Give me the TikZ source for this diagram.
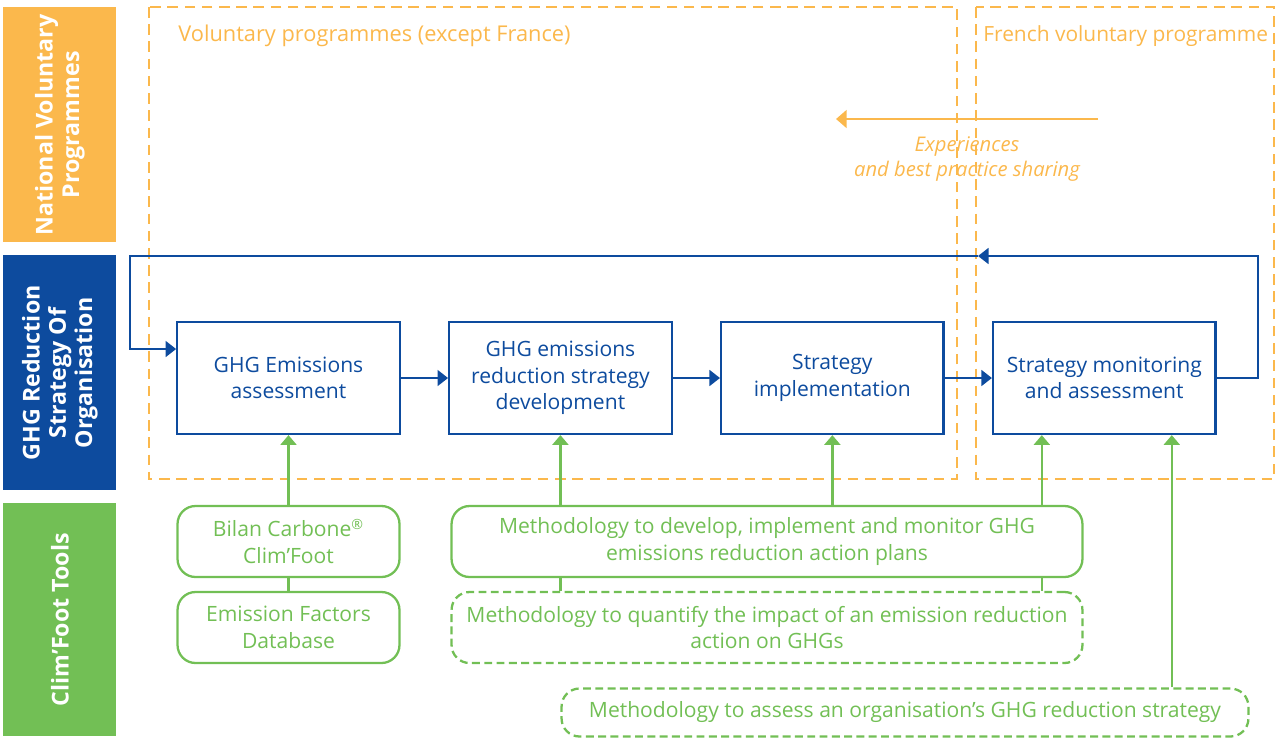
\documentclass[tikz,border=0pt]{standalone}
\usepackage{fontspec}
\setmainfont{Open Sans}
\usetikzlibrary{arrows.meta,positioning}
\definecolor{progorange}{RGB}{251,184,76}
\definecolor{orgblue}{RGB}{13,75,158}
\definecolor{toolgreen}{RGB}{114,191,85}
\tikzset{
  bar/.style = {inner sep=0pt, text=white, align=center, minimum width=2.26cm,
    font=\fontsize{13.2}{15}\selectfont\bfseries},% coloured side band
  stage/.style = {draw=orgblue, line width=1.3pt, text=orgblue, align=center,
    minimum width=4.45cm, minimum height=2.24cm, inner sep=0pt,
    font=\fontsize{12}{15.2}\selectfont},% strategy step (box)
  tool/.style = {draw=toolgreen, line width=1.3pt, rounded corners=0.36cm,
    text=toolgreen, align=center, minimum height=1.42cm, inner sep=0pt,
    font=\fontsize{12}{15.2}\selectfont},% Clim'Foot tool
  plannedtool/.style = {tool, dash pattern=on 4.5pt off 2.5pt},
  zone/.style = {draw=progorange, line width=1.3pt, dash pattern=on 6pt off 3.8pt},
  zonelabel/.style = {anchor=west, inner sep=0pt, text=progorange,
    font=\fontsize{12.4}{15}\selectfont},
  flow/.style = {orgblue, line width=1.3pt, -{Triangle[length=6pt,width=9pt]}},
  feed/.style = {toolgreen, line width=1.3pt, -{Triangle[length=5.5pt,width=9pt]}},
  link/.style = {toolgreen, line width=1.3pt}
}
\begin{document}
\begin{tikzpicture}[x=0.02cm,y=-0.02cm,node distance=0.944cm]
\useasboundingbox (0,0) rectangle (1277,738);
% side bands
\node [bar, fill=progorange, minimum height=4.7cm, anchor=north west] (natband) at (3,7) {};
\node [bar, rotate=90] (natlabel) at (natband.center) {National Voluntary\\Programmes};
\node [bar, fill=orgblue, minimum height=4.7cm, anchor=north west] (orgband) at (3,255) {};
\node [bar, rotate=90] (orglabel) at (orgband.center) {GHG Reduction\\Strategy Of\\Organisation};
\node [bar, fill=toolgreen, minimum height=4.66cm, anchor=north west] (toolband) at (3,503) {};
\node [bar, rotate=90] (toollabel) at (toolband.center) {Clim’Foot Tools};
% programme zones
\draw [zone] (149,7) rectangle (957,479);
\draw [zone] (976,7) rectangle (1274,479);
\node [zonelabel] (eulabel) at (178,36) {Voluntary programmes (except France)};
\node [zonelabel, font=\fontsize{11.9}{15}\selectfont] (frlabel) at (983,36) {French voluntary programme};
\coordinate (sharefrom) at (1098,119);
\coordinate (shareto) at (836,119);
\draw [progorange, line width=1.5pt, -{Triangle[length=6pt,width=10pt]}] (sharefrom) -- (shareto);
\node [text=progorange, align=center, font=\fontsize{11.5}{13.7}\selectfont\itshape] (sharing) at (967,159)
  {Experiences\\and best practice sharing};
% strategy steps
\node [stage] (assess) at (288.5,378) {GHG Emissions\\assessment};
\node [stage, right=of assess] (develop) {GHG emissions\\reduction strategy\\development};
\node [stage, right=of develop] (implement) {Strategy\\implementation};
\node [stage, right=of implement] (monitor) {Strategy monitoring\\and assessment};
\draw [flow] (assess) -- (develop);
\draw [flow] (develop) -- (implement);
\draw [flow] (implement) -- (monitor);
% feedback loop
\coordinate (loopmid) at (978,256);
\draw [flow] (monitor.east) -| (1258,256) -- (loopmid);
\draw [flow] (loopmid) -- (130,256) |- ([yshift=0.58cm]assess.west);
% tools
\node [tool, minimum width=4.44cm] (bilan) at (288.5,541.5) {Bilan Carbone\textsuperscript{®}\\Clim’Foot};
\node [tool, minimum width=4.44cm] (factors) at (288.5,627.5) {Emission Factors\\Database};
\node [tool, minimum width=12.62cm] (plans) at (767,541.5)
  {Methodology to develop, implement and monitor GHG\\emissions reduction action plans};
\node [plannedtool, minimum width=12.62cm] (impact) at (767,627.5)
  {Methodology to quantify the impact of an emission reduction\\action on GHGs};
\node [plannedtool, minimum width=13.74cm, minimum height=0.96cm] (review) at (905,712.5)
  {Methodology to assess an organisation’s GHG reduction strategy};
\draw [link] (bilan) -- (factors);
\draw [link] (develop.south |- plans.south) -- (develop.south |- impact.north);
\draw [link] ([xshift=-1.25cm]monitor.south |- plans.south) -- ([xshift=-1.25cm]monitor.south |- impact.north);
\draw [feed] (bilan) -- (assess);
\draw [feed] (develop.south |- plans.north) -- (develop.south);
\draw [feed] (implement.south |- plans.north) -- (implement.south);
\draw [feed] ([xshift=-1.25cm]monitor.south |- plans.north) -- ([xshift=-1.25cm]monitor.south);
\draw [feed] ([xshift=1.35cm]monitor.south |- review.north) -- ([xshift=1.35cm]monitor.south);
\end{tikzpicture}
\end{document}
